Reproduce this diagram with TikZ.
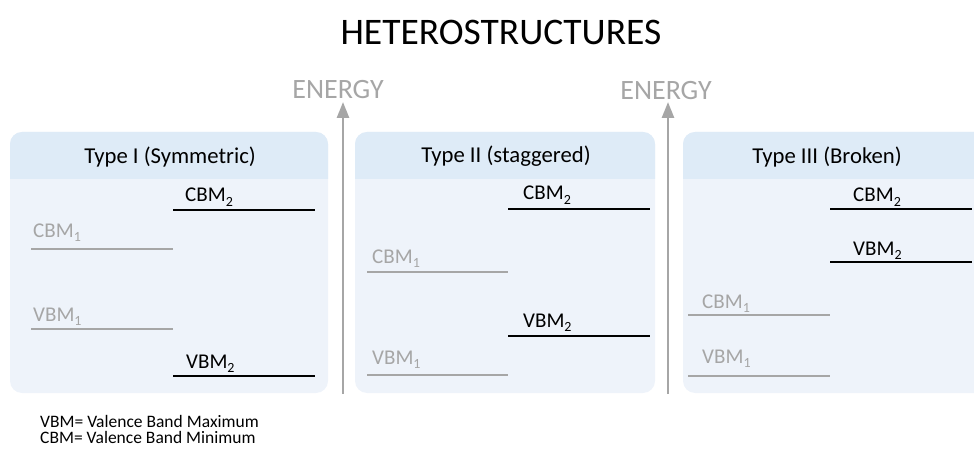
\documentclass[tikz,border=0pt]{standalone}
\usepackage{fontspec}
\setmainfont{Carlito}
\usetikzlibrary{arrows.meta}
\definecolor{bodyfill}{HTML}{EEF3FA}
\definecolor{headfill}{HTML}{DEEBF7}
\definecolor{greyc}{HTML}{A6A6A6}
\newcommand{\mysub}[1]{\raisebox{-0.22em}{\fontsize{14}{16}\selectfont #1}}
\tikzset{
  lbl/.style={anchor=base west,inner sep=0pt,font=\fontsize{21}{24}\selectfont},
  glbl/.style={lbl,text=greyc},
  blbl/.style={lbl,text=black},
  gline/.style={draw=greyc,line width=2.2pt},
  bline/.style={draw=black,line width=2.6pt},
  head/.style={inner sep=0pt,font=\fontsize{22.7}{26}\selectfont},
  axis/.style={draw=greyc,line width=2.6pt,-{Triangle[length=16pt,width=12pt]}},
  axlbl/.style={inner sep=0pt,text=greyc,font=\fontsize{28}{30}\selectfont},
}
\begin{document}
\begin{tikzpicture}[x=1pt,y=-1pt]
\useasboundingbox (0,0) rectangle (974,449);
\begin{scope}
\clip (0,0) rectangle (974,449);
% panels
\foreach \xa/\xb in {10/328,355/655,683/1000}{
  \fill[bodyfill,rounded corners=12pt] (\xa,132) rectangle (\xb,393);
  \fill[headfill] (\xa,179) [rounded corners=12pt]-- (\xa,132) -- (\xb,132) [sharp corners]-- (\xb,179) -- cycle;
}
\end{scope}
% title
\node[inner sep=0pt,font=\fontsize{37.5}{40}\selectfont] (title) at (501,32) {HETEROSTRUCTURES};
% headers
\node[head] (h1) at (170,157) {Type I (Symmetric)};
\node[head] (h2) at (506,156) {Type II (staggered)};
\node[head] (h3) at (827,157) {Type III (Broken)};
% energy axes
\coordinate (a1b) at (343,394);
\coordinate (a1t) at (343,102);
\coordinate (a2b) at (668,394);
\coordinate (a2t) at (668,102);
\draw[axis] (a1b) -- (a1t);
\draw[axis] (a2b) -- (a2t);
\node[axlbl] (e1) at (338,90) {ENERGY};
\node[axlbl] (e2) at (666,91) {ENERGY};
% panel 1
\draw[bline] (173,210) -- (315,210);
\draw[gline] (31,249) -- (173,249);
\draw[gline] (31,329) -- (173,329);
\draw[bline] (173,376) -- (315,376);
\node[blbl] (p1c2) at (185,202) {CBM\mysub{2}};
\node[glbl] (p1c1) at (33,237) {CBM\mysub{1}};
\node[glbl] (p1v1) at (33,321) {VBM\mysub{1}};
\node[blbl] (p1v2) at (186,368) {VBM\mysub{2}};
% panel 2
\draw[bline] (508,209) -- (650,209);
\draw[gline] (367,272) -- (508,272);
\draw[bline] (508,336) -- (650,336);
\draw[gline] (367,375) -- (508,375);
\node[blbl] (p2c2) at (523,200) {CBM\mysub{2}};
\node[glbl] (p2c1) at (372,263) {CBM\mysub{1}};
\node[blbl] (p2v2) at (523,327) {VBM\mysub{2}};
\node[glbl] (p2v1) at (372,364) {VBM\mysub{1}};
% panel 3
\draw[bline] (830,209) -- (972,209);
\draw[bline] (830,262) -- (972,262);
\draw[gline] (688,315) -- (830,315);
\draw[gline] (688,376) -- (830,376);
\node[blbl] (p3c2) at (853,202) {CBM\mysub{2}};
\node[blbl] (p3v2) at (853,255) {VBM\mysub{2}};
\node[glbl] (p3c1) at (702,308) {CBM\mysub{1}};
\node[glbl] (p3v1) at (702,363) {VBM\mysub{1}};
% footnote
\node[anchor=base west,inner sep=0pt,font=\fontsize{17.5}{20}\selectfont] (f1) at (40,427) {VBM= Valence Band Maximum};
\node[anchor=base west,inner sep=0pt,font=\fontsize{17.5}{20}\selectfont] (f2) at (40,443) {CBM= Valence Band Minimum};
\end{tikzpicture}
\end{document}
